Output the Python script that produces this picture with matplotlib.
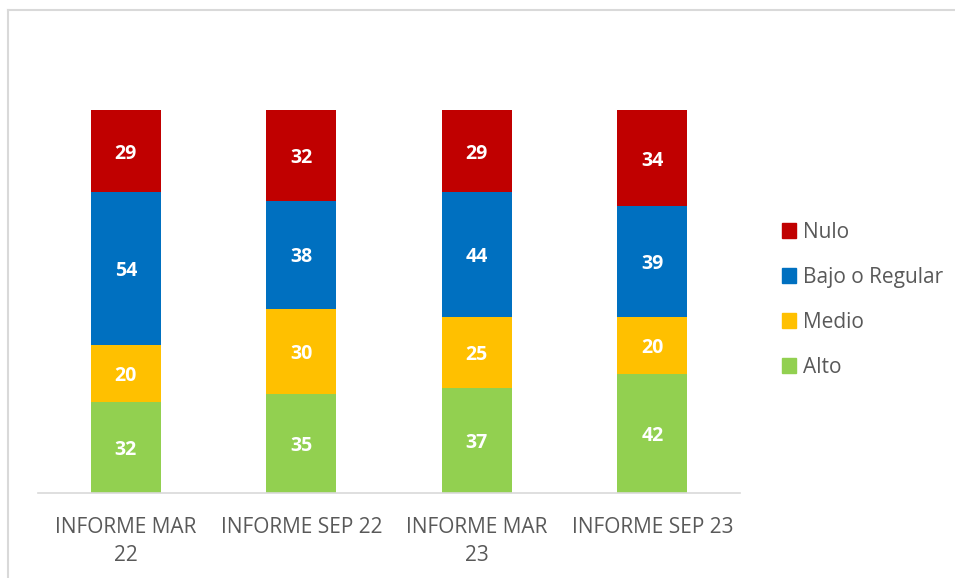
import numpy as np
import matplotlib.pyplot as plt
from matplotlib.lines import Line2D
from matplotlib.patches import Patch

plt.rcParams['font.family'] = ['Open Sans', 'DejaVu Sans']

categorias = ["INFORME MAR\n22", "INFORME SEP 22", "INFORME MAR\n23", "INFORME SEP 23"]
alto = [32, 35, 37, 42]
medio = [20, 30, 25, 20]
bajo = [54, 38, 44, 39]
nulo = [29, 32, 29, 34]

series = [("Alto", alto, "#92D050"),
          ("Medio", medio, "#FFC000"),
          ("Bajo o Regular", bajo, "#0070C0"),
          ("Nulo", nulo, "#C00000")]

fig = plt.figure(figsize=(9.55, 5.78), dpi=100)
ax = fig.add_axes([38/955, 1-493/578, (740-38)/955, (493-110)/578])

x = np.arange(len(categorias))
base = np.zeros(len(categorias))
for nombre, vals, color in series:
    bars = ax.bar(x, vals, width=0.4, bottom=base, color=color, label=nombre)
    for b, v in zip(bars, vals):
        ax.text(b.get_x() + b.get_width()/2, b.get_y() + b.get_height()/2, str(v),
                ha='center', va='center_baseline', color='white', fontsize=14, fontweight='bold')
    base = base + np.array(vals)

ax.set_xlim(-0.5, 3.5)
ax.set_ylim(0, base.max())
ax.set_xticks(x)
ax.set_xticklabels(categorias, color='#595959', fontsize=15, linespacing=1.45)
ax.tick_params(axis='x', length=0, pad=17)
ax.set_yticks([])
for s in ['top', 'right', 'left']:
    ax.spines[s].set_visible(False)
ax.spines['bottom'].set_color('#D9D9D9')
ax.spines['bottom'].set_linewidth(1.2)

handles = [Patch(color=c, label=n) for n, v, c in series][::-1]
fig.legend(handles=handles, loc='center left', bbox_to_anchor=(763/955, 1-300/578),
           frameon=False, fontsize=15, labelcolor='#595959', handlelength=0.7,
           handleheight=0.7, handletextpad=0.3, labelspacing=1.15)

# borde del grafico
fig.add_artist(Line2D([8/955, 1], [1-10/578, 1-10/578], color='#D9D9D9', lw=1.5))
fig.add_artist(Line2D([8/955, 8/955], [0, 1-10/578], color='#D9D9D9', lw=1.5))

fig.savefig('out.png', dpi=100)
